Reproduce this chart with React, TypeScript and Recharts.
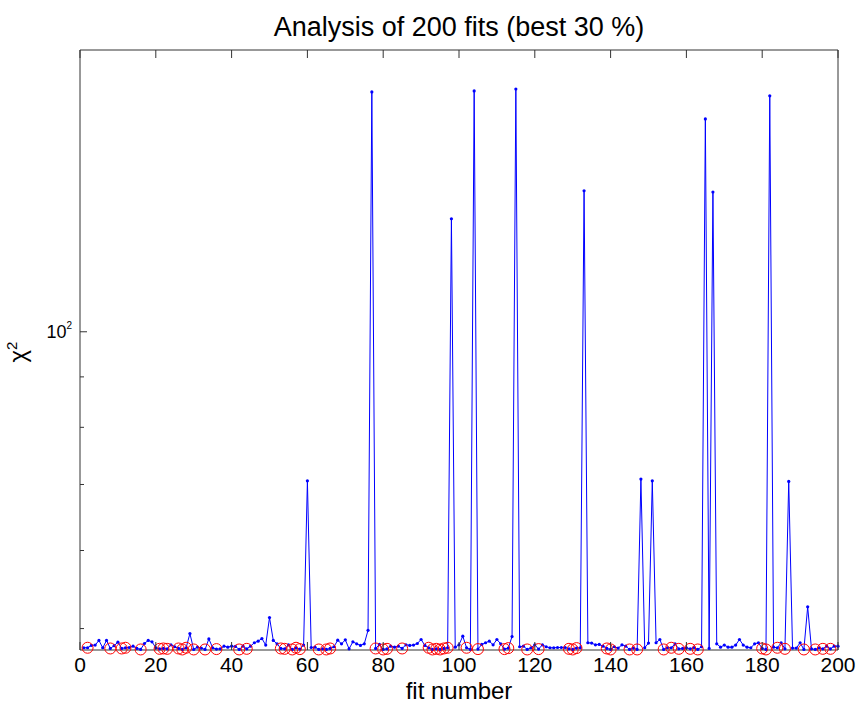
import { ComposedChart, Line, Scatter, XAxis, YAxis } from "recharts"

// chi^2 of each fit, fit number 1..200
const chi2 = [
  47.81, 47.81, 48.07, 48.11, 48.63, 47.81, 48.63, 47.73, 48.04, 48.44,
  47.73, 47.81, 47.84, 47.99, 47.73, 47.62, 48.29, 48.63, 48.48, 47.81,
  47.69, 47.73, 47.69, 48.14, 47.92, 47.73, 47.62, 47.81, 49.42, 47.62,
  47.88, 47.77, 47.62, 48.81, 47.81, 47.66, 47.69, 47.99, 47.88, 47.99,
  47.96, 47.62, 47.99, 47.69, 47.99, 48.37, 48.55, 48.85, 48.11, 51.3,
  48.63, 48.25, 47.73, 47.69, 48.14, 47.62, 47.81, 47.66, 48.11, 70.6,
  47.84, 47.88, 47.62, 47.69, 47.62, 47.73, 47.92, 48.66, 48.25, 48.7,
  47.69, 48.48, 48.25, 48.07, 48.25, 49.8, 175.1, 47.73, 48.18, 47.62,
  47.69, 47.99, 47.88, 47.99, 47.73, 48.14, 48.07, 48.11, 48.29, 48.74,
  48.07, 47.81, 47.62, 47.69, 47.62, 47.73, 47.81, 130.2, 47.88, 48.14,
  49.12, 47.81, 47.62, 175.5, 47.66, 48.18, 48.37, 48.55, 48.14, 48.74,
  48.25, 47.66, 47.77, 49.08, 176.3, 47.92, 47.99, 47.62, 47.81, 48.14,
  47.66, 48.14, 47.92, 47.81, 47.81, 47.84, 47.84, 47.84, 47.69, 47.62,
  47.77, 47.81, 139.0, 48.37, 48.33, 48.14, 48.18, 47.99, 47.73, 47.62,
  47.92, 47.77, 48.14, 47.99, 47.62, 47.77, 47.62, 70.9, 47.81, 48.33,
  70.6, 48.37, 48.74, 47.62, 47.81, 47.81, 48.25, 47.69, 47.73, 47.81,
  47.69, 47.84, 47.62, 47.92, 164.4, 47.73, 138.6, 48.25, 47.88, 48.11,
  47.88, 47.88, 48.11, 48.74, 48.11, 47.88, 47.81, 48.25, 48.37, 47.73,
  47.62, 173.5, 47.88, 47.81, 48.37, 47.69, 70.5, 47.77, 47.77, 48.37,
  47.62, 52.6, 47.69, 47.62, 47.81, 47.69, 47.99, 47.69, 47.99, 47.99,
]

// fits marked as the best 30 %
const bestFits = [
  2, 8, 11, 12, 16, 21, 22, 23, 26, 27, 28, 30, 33, 36, 42, 44,
  53, 54, 56, 57, 58, 63, 65, 66, 78, 80, 81, 85, 92, 93, 94, 95, 96, 97,
  102, 105, 112, 113, 118, 121, 129, 130, 131, 139, 140, 145, 147,
  154, 156, 158, 161, 163, 180, 181, 184, 186, 191, 194, 196, 198,
]

const xTicks = [0, 20, 40, 60, 80, 100, 120, 140, 160, 180, 200]
const yTicks = [50, 60, 70, 80, 90, 100]

const data = chi2.map((v, i) => ({ fit: i + 1, chi2: v }))
const best = bestFits.map((f) => ({ fit: f, chi2: chi2[f - 1] }))

const FONT = "'Liberation Sans', Arial, sans-serif"
const AXIS = "#333"

const BottomTick = ({ x, y, payload }: any) => (
  <g>
    <line x1={x} y1={y} x2={x} y2={y - 8} stroke={AXIS} />
    <text x={x} y={y + 22} textAnchor="middle" fontSize={21} fontFamily={FONT} fill="#000">
      {payload.value}
    </text>
  </g>
)

const TopTick = ({ x, y }: any) => <line x1={x} y1={y} x2={x} y2={y + 8} stroke={AXIS} />

const LeftTick = ({ x, y, payload }: any) => {
  const major = payload.value === 100
  return (
    <g>
      <line x1={x} y1={y} x2={x + (major ? 7 : 4)} y2={y} stroke={AXIS} />
      {major && (
        <text x={x - 8} y={y + 6} textAnchor="end" fontSize={18} fontFamily={FONT} fill="#000">
          10<tspan dy={-9} fontSize={10}>2</tspan>
        </text>
      )}
    </g>
  )
}

const RightTick = ({ x, y, payload }: any) => (
  <line x1={x} y1={y} x2={x - (payload.value === 100 ? 7 : 4)} y2={y} stroke={AXIS} />
)

const Ring = ({ cx, cy }: any) => <circle cx={cx} cy={cy} r={5.5} fill="none" stroke="#ff0000" strokeWidth={1} />

export default function App() {
  return (
    <div style={{ position: "absolute", left: 0, top: 0, background: "#fff" }}>
      <ComposedChart width={856} height={704} data={data} margin={{ top: 49, right: 17, bottom: 53, left: 79 }}>
        <XAxis
          xAxisId="b"
          dataKey="fit"
          type="number"
          domain={[0, 200]}
          ticks={xTicks}
          interval={0}
          height={1}
          tickSize={0}
          tickMargin={0}
          tickLine={false}
          tick={BottomTick}
          stroke={AXIS}
        />
        <XAxis
          xAxisId="t"
          orientation="top"
          dataKey="fit"
          type="number"
          domain={[0, 200]}
          ticks={xTicks}
          interval={0}
          height={1}
          tickSize={0}
          tickMargin={0}
          tickLine={false}
          tick={TopTick}
          stroke={AXIS}
        />
        <YAxis
          yAxisId="l"
          scale="log"
          type="number"
          domain={[47.56, 193.1]}
          ticks={yTicks}
          interval={0}
          width={1}
          tickSize={0}
          tickMargin={0}
          tickLine={false}
          tick={LeftTick}
          stroke={AXIS}
        />
        <YAxis
          yAxisId="r"
          orientation="right"
          scale="log"
          type="number"
          domain={[47.56, 193.1]}
          ticks={yTicks}
          interval={0}
          width={1}
          tickSize={0}
          tickMargin={0}
          tickLine={false}
          tick={RightTick}
          stroke={AXIS}
        />
        <Line
          xAxisId="b"
          yAxisId="l"
          dataKey="chi2"
          stroke="#0000ff"
          strokeWidth={1}
          dot={{ r: 1.6, fill: "#0000ff", stroke: "none" }}
          isAnimationActive={false}
        />
        <Scatter xAxisId="b" yAxisId="l" data={best} dataKey="chi2" shape={Ring} isAnimationActive={false} />
        <text x={459} y={36} textAnchor="middle" fontSize={27} fontFamily={FONT} fill="#000">
          Analysis of 200 fits (best 30 %)
        </text>
        <text x={459} y={699} textAnchor="middle" fontSize={24} fontFamily={FONT} fill="#000">
          fit number
        </text>
        <text
          x={26}
          y={352}
          transform="rotate(-90, 26, 352)"
          textAnchor="middle"
          fontSize={24}
          fontFamily={FONT}
          fill="#000"
        >
          χ<tspan dy={-9} fontSize={15}>2</tspan>
        </text>
      </ComposedChart>
    </div>
  )
}
